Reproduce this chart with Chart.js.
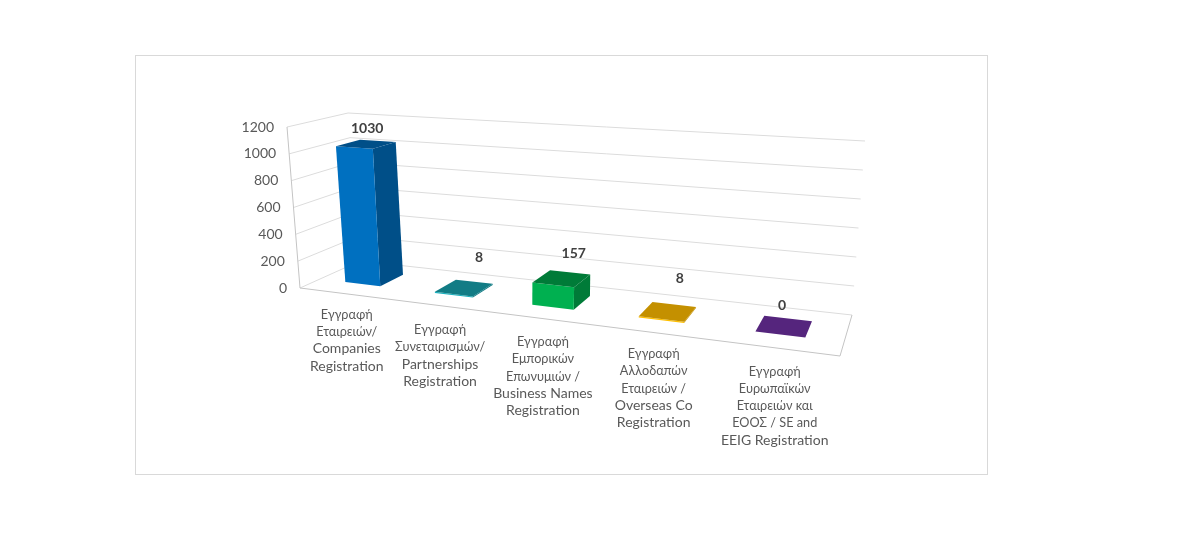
<!DOCTYPE html>
<html>
<head>
<meta charset="utf-8">
<style>
  body { margin: 0; background: #fff; }
  canvas { display: block; filter: blur(0.4px); }
</style>
<script src="https://cdn.jsdelivr.net/npm/chart.js"></script>
</head>
<body>
<canvas id="chart" width="1200" height="536"></canvas>
<script>
const categories = [
  ["Εγγραφή", "Εταιρειών/", "Companies", "Registration"],
  ["Εγγραφή", "Συνεταιρισμών/", "Partnerships", "Registration"],
  ["Εγγραφή", "Εμπορικών", "Επωνυμιών /", "Business Names", "Registration"],
  ["Εγγραφή", "Αλλοδαπών", "Εταιρειών /", "Overseas Co", "Registration"],
  ["Εγγραφή", "Ευρωπαϊκών", "Εταιρειών και", "ΕΟΟΣ / SE and", "EEIG Registration"]
];
const values = [1030, 8, 157, 8, 0];
const frontColors = ["#0070c0", "#1ab1be", "#00b050", "#ffc000", "#7030a0"];
const topColors = ["#004f88", "#127c85", "#007b38", "#c49000", "#55257d"];
const sideColors = ["#004f88", "#127c85", "#007b38", "#c49000", "#55257d"];

// where the 3d box ends up on the page (front left, front right, back right, back left)
const FLOOR = [[300, 288], [840, 356], [852, 315], [360, 261]];
const CEILING = [[287, 127], [856, 162], [865, 141], [348, 113]];
const BAR_DEPTH = [0.31, 0.72];
const VALUE_NUDGE = [[1, -16], [15, -30], [12, -25], [12, -33], [-2, -21]];
const LABEL_NUDGE = [[3, 0], [3, 3.5], [4, 3], [3, 1], [1, 3]];

const TEXT = "#595959";
const FONT = "Lato, 'Noto Sans', sans-serif";
const GREEK = /[\u0370-\u03ff]/;

// unit square -> quad, perspective
function squareToQuad(q) {
  const [p0, p1, p2, p3] = q;
  const dx1 = p1[0] - p2[0], dx2 = p3[0] - p2[0], sx = p0[0] - p1[0] + p2[0] - p3[0];
  const dy1 = p1[1] - p2[1], dy2 = p3[1] - p2[1], sy = p0[1] - p1[1] + p2[1] - p3[1];
  const det = dx1 * dy2 - dx2 * dy1;
  const g = (sx * dy2 - dx2 * sy) / det;
  const h = (dx1 * sy - sx * dy1) / det;
  return (u, v) => {
    const d = 1 + g * u + h * v;
    return [
      (p1[0] - p0[0] + g * p1[0]) * u / d + (p3[0] - p0[0] + h * p3[0]) * v / d + p0[0] / d,
      (p1[1] - p0[1] + g * p1[1]) * u / d + (p3[1] - p0[1] + h * p3[1]) * v / d + p0[1] / d
    ];
  };
}

const floorAt = squareToQuad(FLOOR);
const ceilingAt = squareToQuad(CEILING);

function project(u, v, w) {
  const a = floorAt(u, v), b = ceilingAt(u, v);
  return [a[0] + (b[0] - a[0]) * w, a[1] + (b[1] - a[1]) * w];
}

function line(ctx, pts, color) {
  ctx.beginPath();
  pts.forEach((p, i) => i ? ctx.lineTo(p[0], p[1]) : ctx.moveTo(p[0], p[1]));
  ctx.strokeStyle = color;
  ctx.lineWidth = 1;
  ctx.stroke();
}

function face(ctx, pts, color) {
  ctx.beginPath();
  pts.forEach((p, i) => i ? ctx.lineTo(p[0], p[1]) : ctx.moveTo(p[0], p[1]));
  ctx.closePath();
  ctx.fillStyle = color;
  ctx.fill();
}

// draws the flat chart the library laid out as a perspective box
const perspective = {
  id: "perspective",
  beforeDatasetsDraw(chart) {
    const ctx = chart.ctx, area = chart.chartArea;
    const xs = chart.scales.x, ys = chart.scales.y;
    const toU = px => (px - area.left) / area.width;
    const toW = py => (area.bottom - py) / area.height;

    ctx.save();
    ctx.strokeStyle = "#d9d9d9";
    ctx.lineWidth = 1;
    ctx.strokeRect(135.5, 55.5, 852, 419);

    // walls
    ys.ticks.forEach(t => {
      const w = toW(ys.getPixelForValue(t.value));
      line(ctx, [project(0, 0, w), project(0, 1, w), project(1, 1, w)], "#dcdcdc");
    });
    line(ctx, [project(0, 0, 1), project(0, 0, 0)], "#c4c4c4");
    line(ctx, [project(0, 0, 0), project(1, 0, 0), project(1, 1, 0)], "#c4c4c4");

    // axis text
    ctx.font = "14px " + FONT;
    ctx.fillStyle = TEXT;
    ctx.textBaseline = "middle";
    ctx.textAlign = "right";
    ys.ticks.forEach(t => {
      const p = project(0, 0, toW(ys.getPixelForValue(t.value)));
      ctx.fillText(t.label, p[0] - 13, p[1]);
    });
    ctx.textAlign = "center";
    xs.ticks.forEach((t, i) => {
      const p = project(toU(xs.getPixelForTick(i)), 0, 0);
      t.label.forEach((s, j) => {
        // Lato's greek runs wide next to the reference
        ctx.font = (GREEK.test(s) ? "12.7px " : "14px ") + FONT;
        ctx.fillText(s, p[0] + LABEL_NUDGE[i][0], p[1] + 21 + LABEL_NUDGE[i][1] + j * 17.2);
      });
    });

    // bars
    const bars = chart.getDatasetMeta(0).data;
    bars.forEach((bar, i) => {
      const u0 = toU(bar.x - bar.width / 2), u1 = toU(bar.x + bar.width / 2);
      const v0 = BAR_DEPTH[0], v1 = BAR_DEPTH[1];
      const w = toW(bar.y);
      face(ctx, [project(u1, v0, 0), project(u1, v1, 0), project(u1, v1, w), project(u1, v0, w)], sideColors[i]);
      face(ctx, [project(u0, v0, 0), project(u1, v0, 0), project(u1, v0, w), project(u0, v0, w)], frontColors[i]);
      face(ctx, [project(u0, v0, w), project(u1, v0, w), project(u1, v1, w), project(u0, v1, w)], topColors[i]);
    });

    // value labels
    ctx.font = "bold 14px " + FONT;
    ctx.fillStyle = "#404040";
    bars.forEach((bar, i) => {
      const p = project(toU(bar.x), (BAR_DEPTH[0] + BAR_DEPTH[1]) / 2, toW(bar.y));
      ctx.fillText(values[i], p[0] + VALUE_NUDGE[i][0], p[1] + VALUE_NUDGE[i][1]);
    });
    ctx.restore();
    return false; // flat bars not wanted
  }
};

new Chart(document.getElementById("chart").getContext("2d"), {
  type: "bar",
  data: {
    labels: categories,
    datasets: [{
      data: values,
      backgroundColor: frontColors,
      barPercentage: 0.4,
      categoryPercentage: 1
    }]
  },
  options: {
    responsive: false,
    animation: false,
    layout: { padding: 0 },
    plugins: { legend: { display: false }, tooltip: { enabled: false } },
    scales: {
      x: {
        grid: { display: false },
        border: { display: false },
        ticks: { display: false, autoSkip: false, maxRotation: 0 }
      },
      y: {
        min: 0,
        max: 1200,
        grid: { display: false },
        border: { display: false },
        ticks: { display: false, stepSize: 200, callback: v => String(v) }
      }
    }
  },
  plugins: [perspective]
});
</script>
</body>
</html>
